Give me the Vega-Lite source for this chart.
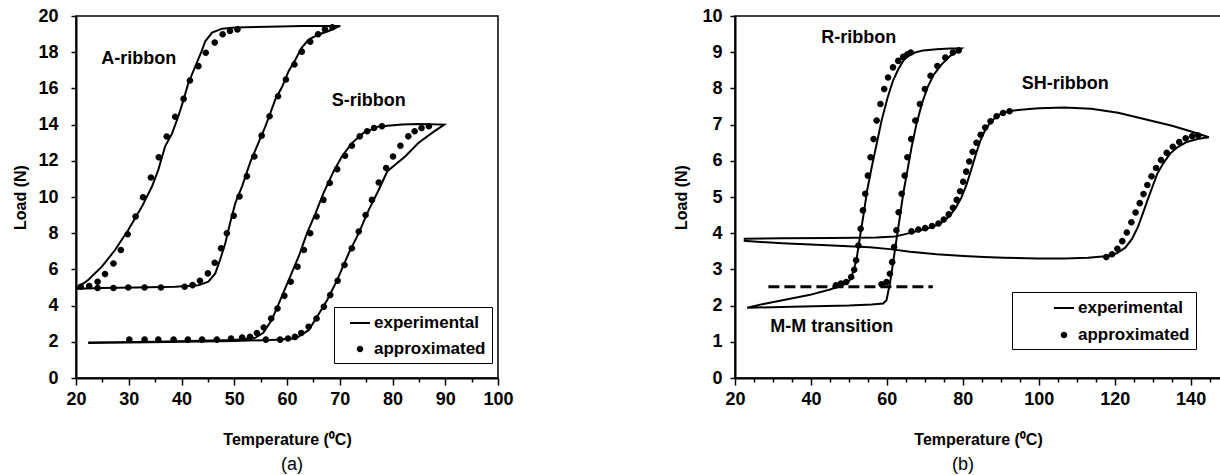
{
  "$schema": "https://vega.github.io/schema/vega-lite/v6.json",
  "background": "white",
  "padding": {"left": 12, "top": 6, "right": 0, "bottom": 0},
  "spacing": 159,
  "config": {
    "font": "Liberation Sans",
    "view": {"stroke": "black", "strokeWidth": 1.5},
    "axis": {"domainColor": "black", "domainWidth": 2, "tickColor": "black", "tickWidth": 1.5, "labelFont": "Liberation Sans", "labelFontWeight": "bold", "labelFontSize": 18, "labelColor": "black", "titleFont": "Liberation Sans", "titleFontWeight": "bold", "titleFontSize": 16, "titleColor": "black", "grid": false, "labelFlush": false, "labelOverlap": false},
    "axisY": {"labelOverlap": false},
    "axisQuantitative": {"labelOverlap": false},
    "legend": {"labelFont": "Liberation Sans", "labelFontWeight": "bold", "labelFontSize": 17, "labelColor": "black", "strokeColor": "black", "padding": 6, "rowPadding": 8, "symbolSize": 400, "symbolFillColor": "black", "symbolStrokeColor": "black", "symbolStrokeWidth": 0, "labelOffset": 4},
    "title": {"font": "Liberation Sans", "fontSize": 18, "fontWeight": "normal", "color": "black"}
  },
  "resolve": {"scale": {"shape": "independent"}, "legend": {"shape": "independent"}},
  "datasets": {
    "aexp": [
      {"s":"A","o":1,"T":20.1,"L":4.95},{"s":"A","o":2,"T":22.3,"L":5.41},{"s":"A","o":3,"T":24.9,"L":6.15},{"s":"A","o":4,"T":27.4,"L":7.07},{"s":"A","o":5,"T":29.9,"L":8.18},{"s":"A","o":6,"T":32.5,"L":9.47},{"s":"A","o":7,"T":34.4,"L":10.58},{"s":"A","o":8,"T":35.6,"L":11.5},{"s":"A","o":9,"T":36.9,"L":12.8},{"s":"A","o":10,"T":38.2,"L":13.5},{"s":"A","o":11,"T":39.4,"L":14.46},{"s":"A","o":12,"T":40.4,"L":15.38},{"s":"A","o":13,"T":41.3,"L":16.3},{"s":"A","o":14,"T":42.6,"L":17.2},{"s":"A","o":15,"T":43.7,"L":17.97},{"s":"A","o":16,"T":44.5,"L":18.6},{"s":"A","o":17,"T":45.8,"L":19.08},{"s":"A","o":18,"T":47.7,"L":19.3},{"s":"A","o":19,"T":50.2,"L":19.37},{"s":"A","o":20,"T":56.5,"L":19.41},{"s":"A","o":21,"T":62.8,"L":19.45},{"s":"A","o":22,"T":70.1,"L":19.45},{"s":"A","o":23,"T":67.9,"L":19.17},{"s":"A","o":24,"T":66.0,"L":18.98},{"s":"A","o":25,"T":64.1,"L":18.7},{"s":"A","o":26,"T":62.8,"L":18.25},{"s":"A","o":27,"T":61.6,"L":17.6},{"s":"A","o":28,"T":60.3,"L":16.95},{"s":"A","o":29,"T":59.1,"L":16.1},{"s":"A","o":30,"T":57.8,"L":15.4},{"s":"A","o":31,"T":56.8,"L":14.6},{"s":"A","o":32,"T":55.9,"L":13.9},{"s":"A","o":33,"T":54.6,"L":13.0},{"s":"A","o":34,"T":53.0,"L":11.9},{"s":"A","o":35,"T":51.5,"L":10.6},{"s":"A","o":36,"T":50.2,"L":9.66},{"s":"A","o":37,"T":49.2,"L":8.55},{"s":"A","o":38,"T":48.3,"L":7.44},{"s":"A","o":39,"T":47.3,"L":6.52},{"s":"A","o":40,"T":46.4,"L":5.78},{"s":"A","o":41,"T":45.1,"L":5.32},{"s":"A","o":42,"T":43.2,"L":5.13},{"s":"A","o":43,"T":38.8,"L":5.04},{"s":"A","o":44,"T":31.2,"L":5.0},{"s":"A","o":45,"T":24.9,"L":4.97},{"s":"A","o":46,"T":20.1,"L":4.93},
      {"s":"S","o":1,"T":22.3,"L":1.94},{"s":"S","o":2,"T":37.5,"L":1.99},{"s":"S","o":3,"T":50.0,"L":2.05},{"s":"S","o":4,"T":57.0,"L":2.1},{"s":"S","o":5,"T":61.6,"L":2.18},{"s":"S","o":6,"T":64.1,"L":2.64},{"s":"S","o":7,"T":65.7,"L":3.38},{"s":"S","o":8,"T":67.6,"L":4.3},{"s":"S","o":9,"T":69.5,"L":5.41},{"s":"S","o":10,"T":71.7,"L":6.89},{"s":"S","o":11,"T":73.6,"L":8.0},{"s":"S","o":12,"T":75.5,"L":9.29},{"s":"S","o":13,"T":77.4,"L":10.4},{"s":"S","o":14,"T":79.0,"L":11.41},{"s":"S","o":15,"T":80.5,"L":11.78},{"s":"S","o":16,"T":82.4,"L":12.24},{"s":"S","o":17,"T":84.9,"L":12.98},{"s":"S","o":18,"T":87.5,"L":13.54},{"s":"S","o":19,"T":89.8,"L":14.0},{"s":"S","o":20,"T":85.0,"L":14.03},{"s":"S","o":21,"T":81.8,"L":14.0},{"s":"S","o":22,"T":77.4,"L":13.9},{"s":"S","o":23,"T":74.5,"L":13.54},{"s":"S","o":24,"T":72.3,"L":12.98},{"s":"S","o":25,"T":70.4,"L":12.24},{"s":"S","o":26,"T":68.8,"L":11.4},{"s":"S","o":27,"T":66.9,"L":10.2},{"s":"S","o":28,"T":65.4,"L":9.1},{"s":"S","o":29,"T":63.8,"L":8.0},{"s":"S","o":30,"T":62.2,"L":6.7},{"s":"S","o":31,"T":60.6,"L":5.6},{"s":"S","o":32,"T":59.0,"L":4.49},{"s":"S","o":33,"T":57.1,"L":3.2},{"s":"S","o":34,"T":55.5,"L":2.5},{"s":"S","o":35,"T":54.0,"L":2.22},{"s":"S","o":36,"T":50.0,"L":2.1},{"s":"S","o":37,"T":35.0,"L":2.0},{"s":"S","o":38,"T":22.3,"L":1.96}
    ],
    "aapp": [
      {"k":"approximated","T":20.9,"L":5.04},{"k":"approximated","T":22.5,"L":5.08},{"k":"approximated","T":24.1,"L":5.32},{"k":"approximated","T":25.5,"L":5.74},{"k":"approximated","T":27.1,"L":6.33},{"k":"approximated","T":28.5,"L":7.07},{"k":"approximated","T":29.8,"L":7.94},{"k":"approximated","T":31.3,"L":8.92},{"k":"approximated","T":32.7,"L":9.99},{"k":"approximated","T":34.2,"L":11.08},{"k":"approximated","T":35.7,"L":12.19},{"k":"approximated","T":37.2,"L":13.34},{"k":"approximated","T":38.8,"L":14.43},{"k":"approximated","T":40.4,"L":15.42},{"k":"approximated","T":41.6,"L":16.44},{"k":"approximated","T":43.2,"L":17.23},{"k":"approximated","T":44.6,"L":17.97},{"k":"approximated","T":46.3,"L":18.53},{"k":"approximated","T":47.8,"L":18.99},{"k":"approximated","T":49.2,"L":19.17},{"k":"approximated","T":50.6,"L":19.26},
      {"k":"approximated","T":68.6,"L":19.38},{"k":"approximated","T":67.2,"L":19.26},{"k":"approximated","T":65.9,"L":18.99},{"k":"approximated","T":64.4,"L":18.58},{"k":"approximated","T":62.8,"L":18.03},{"k":"approximated","T":61.4,"L":17.32},{"k":"approximated","T":59.8,"L":16.49},{"k":"approximated","T":58.3,"L":15.57},{"k":"approximated","T":56.7,"L":14.46},{"k":"approximated","T":55.2,"L":13.39},{"k":"approximated","T":53.8,"L":12.24},{"k":"approximated","T":52.4,"L":11.14},{"k":"approximated","T":51.0,"L":10.03},{"k":"approximated","T":49.9,"L":8.96},{"k":"approximated","T":48.6,"L":8.0},{"k":"approximated","T":47.5,"L":7.17},{"k":"approximated","T":46.3,"L":6.37},{"k":"approximated","T":45.0,"L":5.78},{"k":"approximated","T":43.5,"L":5.37},{"k":"approximated","T":42.1,"L":5.13},{"k":"approximated","T":40.6,"L":5.04},{"k":"approximated","T":36.1,"L":5.0},{"k":"approximated","T":33.0,"L":5.0},{"k":"approximated","T":29.9,"L":5.0},{"k":"approximated","T":27.1,"L":4.97},{"k":"approximated","T":24.1,"L":4.97},
      {"k":"approximated","T":30.1,"L":2.12},{"k":"approximated","T":33.0,"L":2.12},{"k":"approximated","T":35.6,"L":2.12},{"k":"approximated","T":38.5,"L":2.12},{"k":"approximated","T":41.2,"L":2.12},{"k":"approximated","T":43.9,"L":2.12},{"k":"approximated","T":46.7,"L":2.12},{"k":"approximated","T":49.4,"L":2.18},{"k":"approximated","T":51.5,"L":2.23},{"k":"approximated","T":53.0,"L":2.28},
      {"k":"approximated","T":54.3,"L":2.49},{"k":"approximated","T":55.6,"L":2.79},{"k":"approximated","T":57.0,"L":3.29},{"k":"approximated","T":58.2,"L":3.84},{"k":"approximated","T":59.5,"L":4.54},{"k":"approximated","T":60.7,"L":5.32},{"k":"approximated","T":62.0,"L":6.15},{"k":"approximated","T":63.2,"L":7.07},{"k":"approximated","T":64.4,"L":8.0},{"k":"approximated","T":65.6,"L":8.92},{"k":"approximated","T":66.9,"L":9.84},{"k":"approximated","T":68.1,"L":10.77},{"k":"approximated","T":69.5,"L":11.54},{"k":"approximated","T":71.0,"L":12.28},{"k":"approximated","T":72.3,"L":12.83},{"k":"approximated","T":73.8,"L":13.35},{"k":"approximated","T":75.2,"L":13.63},{"k":"approximated","T":76.5,"L":13.81},{"k":"approximated","T":78.0,"L":13.91},
      {"k":"approximated","T":86.9,"L":13.91},{"k":"approximated","T":85.5,"L":13.81},{"k":"approximated","T":84.2,"L":13.63},{"k":"approximated","T":83.0,"L":13.35},{"k":"approximated","T":81.5,"L":12.83},{"k":"approximated","T":80.1,"L":12.24},{"k":"approximated","T":78.8,"L":11.6},{"k":"approximated","T":77.4,"L":10.8},{"k":"approximated","T":76.1,"L":9.84},{"k":"approximated","T":74.9,"L":9.0},{"k":"approximated","T":73.6,"L":8.09},{"k":"approximated","T":72.3,"L":7.17},{"k":"approximated","T":70.9,"L":6.24},{"k":"approximated","T":69.6,"L":5.37},{"k":"approximated","T":68.2,"L":4.58},{"k":"approximated","T":67.0,"L":3.93},{"k":"approximated","T":65.6,"L":3.29},{"k":"approximated","T":64.1,"L":2.83},{"k":"approximated","T":62.7,"L":2.49},{"k":"approximated","T":61.5,"L":2.27},{"k":"approximated","T":60.2,"L":2.18},{"k":"approximated","T":58.7,"L":2.12},{"k":"approximated","T":56.0,"L":2.12}
    ],
    "alab": [
      {"t":"A-ribbon","T":31.9,"L":17.6},
      {"t":"S-ribbon","T":75.5,"L":15.3}
    ],
    "bexp": [
      {"s":"R","o":1,"T":23.2,"L":1.94},{"s":"R","o":2,"T":35.0,"L":1.97},{"s":"R","o":3,"T":50.0,"L":2.0},{"s":"R","o":4,"T":56.0,"L":2.03},{"s":"R","o":5,"T":59.0,"L":2.06},{"s":"R","o":6,"T":59.9,"L":2.15},{"s":"R","o":7,"T":60.8,"L":2.61},{"s":"R","o":8,"T":61.6,"L":3.16},{"s":"R","o":9,"T":62.5,"L":3.8},{"s":"R","o":10,"T":63.4,"L":4.44},{"s":"R","o":11,"T":64.3,"L":5.09},{"s":"R","o":12,"T":65.4,"L":5.73},{"s":"R","o":13,"T":66.5,"L":6.37},{"s":"R","o":14,"T":67.8,"L":7.02},{"s":"R","o":15,"T":69.2,"L":7.57},{"s":"R","o":16,"T":70.7,"L":8.03},{"s":"R","o":17,"T":72.4,"L":8.39},{"s":"R","o":18,"T":74.5,"L":8.67},{"s":"R","o":19,"T":76.7,"L":8.9},{"s":"R","o":20,"T":79.6,"L":9.1},{"s":"R","o":21,"T":76.7,"L":9.1},{"s":"R","o":22,"T":73.1,"L":9.08},{"s":"R","o":23,"T":69.6,"L":9.05},{"s":"R","o":24,"T":67.4,"L":8.99},{"s":"R","o":25,"T":65.6,"L":8.9},{"s":"R","o":26,"T":64.3,"L":8.76},{"s":"R","o":27,"T":63.0,"L":8.53},{"s":"R","o":28,"T":61.6,"L":8.21},{"s":"R","o":29,"T":60.2,"L":7.75},{"s":"R","o":30,"T":58.6,"L":7.11},{"s":"R","o":31,"T":57.3,"L":6.46},{"s":"R","o":32,"T":56.0,"L":5.82},{"s":"R","o":33,"T":54.8,"L":5.18},{"s":"R","o":34,"T":53.9,"L":4.54},{"s":"R","o":35,"T":52.9,"L":3.89},{"s":"R","o":36,"T":52.1,"L":3.34},{"s":"R","o":37,"T":51.3,"L":2.98},{"s":"R","o":38,"T":50.2,"L":2.7},{"s":"R","o":39,"T":48.4,"L":2.56},{"s":"R","o":40,"T":44.8,"L":2.44},{"s":"R","o":41,"T":39.5,"L":2.29},{"s":"R","o":42,"T":32.5,"L":2.15},{"s":"R","o":43,"T":27.2,"L":2.04},{"s":"R","o":44,"T":23.2,"L":1.94},
      {"s":"SH","o":1,"T":22.3,"L":3.85},{"s":"SH","o":2,"T":32.5,"L":3.86},{"s":"SH","o":3,"T":45.7,"L":3.87},{"s":"SH","o":4,"T":57.2,"L":3.88},{"s":"SH","o":5,"T":62.1,"L":3.91},{"s":"SH","o":6,"T":64.3,"L":3.96},{"s":"SH","o":7,"T":67.0,"L":4.03},{"s":"SH","o":8,"T":69.6,"L":4.1},{"s":"SH","o":9,"T":72.3,"L":4.18},{"s":"SH","o":10,"T":74.5,"L":4.3},{"s":"SH","o":11,"T":76.3,"L":4.45},{"s":"SH","o":12,"T":78.0,"L":4.68},{"s":"SH","o":13,"T":79.6,"L":4.98},{"s":"SH","o":14,"T":81.0,"L":5.35},{"s":"SH","o":15,"T":82.3,"L":5.78},{"s":"SH","o":16,"T":83.5,"L":6.2},{"s":"SH","o":17,"T":84.6,"L":6.55},{"s":"SH","o":18,"T":85.8,"L":6.83},{"s":"SH","o":19,"T":87.3,"L":7.07},{"s":"SH","o":20,"T":89.4,"L":7.27},{"s":"SH","o":21,"T":92.0,"L":7.37},{"s":"SH","o":22,"T":96.0,"L":7.42},{"s":"SH","o":23,"T":100.0,"L":7.45},{"s":"SH","o":24,"T":106.7,"L":7.47},{"s":"SH","o":25,"T":113.8,"L":7.44},{"s":"SH","o":26,"T":120.9,"L":7.33},{"s":"SH","o":27,"T":128.0,"L":7.15},{"s":"SH","o":28,"T":135.1,"L":6.97},{"s":"SH","o":29,"T":139.5,"L":6.83},{"s":"SH","o":30,"T":142.2,"L":6.74},{"s":"SH","o":31,"T":144.8,"L":6.65},{"s":"SH","o":32,"T":141.8,"L":6.6},{"s":"SH","o":33,"T":139.0,"L":6.52},{"s":"SH","o":34,"T":136.6,"L":6.38},{"s":"SH","o":35,"T":134.6,"L":6.2},{"s":"SH","o":36,"T":132.8,"L":5.93},{"s":"SH","o":37,"T":131.2,"L":5.64},{"s":"SH","o":38,"T":129.9,"L":5.27},{"s":"SH","o":39,"T":128.6,"L":4.9},{"s":"SH","o":40,"T":127.4,"L":4.54},{"s":"SH","o":41,"T":126.1,"L":4.17},{"s":"SH","o":42,"T":124.6,"L":3.85},{"s":"SH","o":43,"T":122.8,"L":3.6},{"s":"SH","o":44,"T":120.6,"L":3.45},{"s":"SH","o":45,"T":118.3,"L":3.37},{"s":"SH","o":46,"T":113.0,"L":3.32},{"s":"SH","o":47,"T":106.8,"L":3.3},{"s":"SH","o":48,"T":99.7,"L":3.3},{"s":"SH","o":49,"T":90.9,"L":3.32},{"s":"SH","o":50,"T":85.5,"L":3.34},{"s":"SH","o":51,"T":80.2,"L":3.37},{"s":"SH","o":52,"T":73.1,"L":3.42},{"s":"SH","o":53,"T":66.1,"L":3.49},{"s":"SH","o":54,"T":60.8,"L":3.56},{"s":"SH","o":55,"T":55.5,"L":3.61},{"s":"SH","o":56,"T":45.7,"L":3.66},{"s":"SH","o":57,"T":32.5,"L":3.72},{"s":"SH","o":58,"T":22.3,"L":3.79}
    ],
    "bapp": [
      {"k":"approximated","T":46.6,"L":2.56},{"k":"approximated","T":47.9,"L":2.61},{"k":"approximated","T":49.3,"L":2.65},{"k":"approximated","T":50.6,"L":2.79},{"k":"approximated","T":51.4,"L":2.99},{"k":"approximated","T":51.9,"L":3.25},{"k":"approximated","T":52.5,"L":3.66},{"k":"approximated","T":53.1,"L":4.12},{"k":"approximated","T":53.7,"L":4.63},{"k":"approximated","T":54.3,"L":5.09},{"k":"approximated","T":55.0,"L":5.59},{"k":"approximated","T":55.7,"L":6.1},{"k":"approximated","T":56.5,"L":6.6},{"k":"approximated","T":57.3,"L":7.11},{"k":"approximated","T":58.3,"L":7.57},{"k":"approximated","T":59.3,"L":7.98},{"k":"approximated","T":60.3,"L":8.3},{"k":"approximated","T":61.6,"L":8.58},{"k":"approximated","T":63.0,"L":8.76},{"k":"approximated","T":64.3,"L":8.87},{"k":"approximated","T":65.4,"L":8.94},{"k":"approximated","T":66.3,"L":8.99},
      {"k":"approximated","T":58.6,"L":2.59},{"k":"approximated","T":59.9,"L":2.65},{"k":"approximated","T":60.8,"L":2.88},{"k":"approximated","T":61.4,"L":3.2},{"k":"approximated","T":61.9,"L":3.62},{"k":"approximated","T":62.5,"L":4.08},{"k":"approximated","T":63.1,"L":4.58},{"k":"approximated","T":63.9,"L":5.09},{"k":"approximated","T":64.7,"L":5.59},{"k":"approximated","T":65.4,"L":6.1},{"k":"approximated","T":66.4,"L":6.6},{"k":"approximated","T":67.5,"L":7.11},{"k":"approximated","T":68.7,"L":7.57},{"k":"approximated","T":70.0,"L":7.98},{"k":"approximated","T":71.5,"L":8.35},{"k":"approximated","T":73.3,"L":8.62},{"k":"approximated","T":75.4,"L":8.85},{"k":"approximated","T":77.4,"L":8.99},{"k":"approximated","T":78.9,"L":9.05},
      {"k":"approximated","T":66.5,"L":4.05},{"k":"approximated","T":68.3,"L":4.1},{"k":"approximated","T":70.1,"L":4.14},{"k":"approximated","T":71.9,"L":4.2},{"k":"approximated","T":73.6,"L":4.27},{"k":"approximated","T":75.0,"L":4.38},{"k":"approximated","T":76.3,"L":4.52},{"k":"approximated","T":77.4,"L":4.7},{"k":"approximated","T":78.4,"L":4.92},{"k":"approximated","T":79.3,"L":5.16},{"k":"approximated","T":80.1,"L":5.42},{"k":"approximated","T":80.9,"L":5.7},{"k":"approximated","T":81.7,"L":5.98},{"k":"approximated","T":82.6,"L":6.25},{"k":"approximated","T":83.6,"L":6.5},{"k":"approximated","T":84.7,"L":6.72},{"k":"approximated","T":85.9,"L":6.92},{"k":"approximated","T":87.3,"L":7.09},{"k":"approximated","T":88.9,"L":7.23},{"k":"approximated","T":90.6,"L":7.32},{"k":"approximated","T":92.3,"L":7.37},
      {"k":"approximated","T":117.8,"L":3.34},{"k":"approximated","T":119.3,"L":3.42},{"k":"approximated","T":120.7,"L":3.57},{"k":"approximated","T":122.0,"L":3.78},{"k":"approximated","T":123.2,"L":4.02},{"k":"approximated","T":124.4,"L":4.3},{"k":"approximated","T":125.5,"L":4.57},{"k":"approximated","T":126.6,"L":4.83},{"k":"approximated","T":127.6,"L":5.08},{"k":"approximated","T":128.6,"L":5.33},{"k":"approximated","T":129.7,"L":5.57},{"k":"approximated","T":130.9,"L":5.8},{"k":"approximated","T":132.2,"L":6.02},{"k":"approximated","T":133.7,"L":6.22},{"k":"approximated","T":135.3,"L":6.39},{"k":"approximated","T":137.0,"L":6.52},{"k":"approximated","T":138.7,"L":6.62},{"k":"approximated","T":140.4,"L":6.68},{"k":"approximated","T":142.0,"L":6.7}
    ],
    "blab": [
      {"t":"R-ribbon","T":52.6,"L":9.38},
      {"t":"SH-ribbon","T":107.0,"L":8.13},
      {"t":"M-M transition","T":45.5,"L":1.41}
    ],
    "bdash": [
      {"T":28.8,"L":2.52},{"T":72.1,"L":2.52}
    ]
  },
  "hconcat": [
    {
      "width": 422,
      "height": 362,
      "title": {"text": "(a)", "orient": "bottom", "offset": 9, "dx": 5},
      "encoding": {
        "x": {"field": "T", "type": "quantitative", "scale": {"domain": [20, 100], "nice": false, "zero": false},
              "axis": {"values": [20,25,30,35,40,45,50,55,60,65,70,75,80,85,90,95,100], "labelExpr": "datum.value % 10 === 0 ? datum.label : ''", "tickSize": {"condition": {"test": "datum.value % 10 === 0", "value": 7}, "value": 4}, "labelPadding": 5, "labelOverlap": false, "title": "Temperature (⁰C)", "titlePadding": 23}},
        "y": {"field": "L", "type": "quantitative", "scale": {"domain": [0, 20], "nice": false, "zero": false},
              "axis": {"values": [0,2,4,6,8,10,12,14,16,18,20], "tickSize": 5, "labelPadding": 13, "labelOverlap": false, "labelSeparation": 0, "title": "Load (N)", "titlePadding": 9}}
      },
      "layer": [
        {
          "data": {"name": "aexp"},
          "mark": {"type": "line", "color": "black", "strokeWidth": 2},
          "encoding": {
            "detail": {"field": "s"},
            "order": {"field": "o"}
          }
        },
        {
          "data": {"name": "aapp"},
          "mark": {"type": "point", "filled": true, "size": 400, "color": "black", "opacity": 1},
          "encoding": {
            "shape": {"field": "k", "type": "nominal",
              "scale": {"domain": ["experimental", "approximated"], "range": ["M-1,-0.1H1V0.1H-1Z", "M0.33,0A0.33,0.33 0 1,1 -0.33,0A0.33,0.33 0 1,1 0.33,0Z"]},
              "legend": {"orient": "none", "legendX": 258, "legendY": 291, "title": null, "symbolOffset": 10}}
          }
        },
        {
          "data": {"name": "alab"},
          "mark": {"type": "text", "fontSize": 18, "fontWeight": "bold", "color": "black"},
          "encoding": {
            "text": {"field": "t"}
          }
        }
      ]
    },
    {
      "width": 486,
      "height": 362,
      "title": {"text": "(b)", "orient": "bottom", "offset": 9, "dx": -15},
      "encoding": {
        "x": {"field": "T", "type": "quantitative", "scale": {"domain": [20, 148], "nice": false, "zero": false},
              "axis": {"values": [20,25,30,35,40,45,50,55,60,65,70,75,80,85,90,95,100,105,110,115,120,125,130,135,140,145], "labelExpr": "datum.value % 20 === 0 ? datum.label : ''", "tickSize": {"condition": {"test": "datum.value % 20 === 0", "value": 7}, "value": 4}, "labelPadding": 5, "labelOverlap": false, "title": "Temperature (⁰C)", "titlePadding": 23}},
        "y": {"field": "L", "type": "quantitative", "scale": {"domain": [0, 10], "nice": false, "zero": false},
              "axis": {"values": [0,1,2,3,4,5,6,7,8,9,10], "tickSize": 5, "labelPadding": 8, "labelOverlap": false, "labelSeparation": 0, "title": "Load (N)", "titlePadding": 12}}
      },
      "layer": [
        {
          "data": {"name": "bexp"},
          "mark": {"type": "line", "color": "black", "strokeWidth": 2},
          "encoding": {
            "detail": {"field": "s"},
            "order": {"field": "o"}
          }
        },
        {
          "data": {"name": "bdash"},
          "mark": {"type": "line", "color": "black", "strokeWidth": 3, "strokeDash": [11, 5]},
          "encoding": {}
        },
        {
          "data": {"name": "bapp"},
          "mark": {"type": "point", "filled": true, "size": 400, "color": "black", "opacity": 1},
          "encoding": {
            "shape": {"field": "k", "type": "nominal",
              "scale": {"domain": ["experimental", "approximated"], "range": ["M-1,-0.1H1V0.1H-1Z", "M0.33,0A0.33,0.33 0 1,1 -0.33,0A0.33,0.33 0 1,1 0.33,0Z"]},
              "legend": {"orient": "none", "legendX": 277, "legendY": 276, "title": null, "symbolOffset": 36, "rowPadding": 9}}
          }
        },
        {
          "data": {"name": "blab"},
          "mark": {"type": "text", "fontSize": 18, "fontWeight": "bold", "color": "black"},
          "encoding": {
            "text": {"field": "t"}
          }
        }
      ]
    }
  ]
}
